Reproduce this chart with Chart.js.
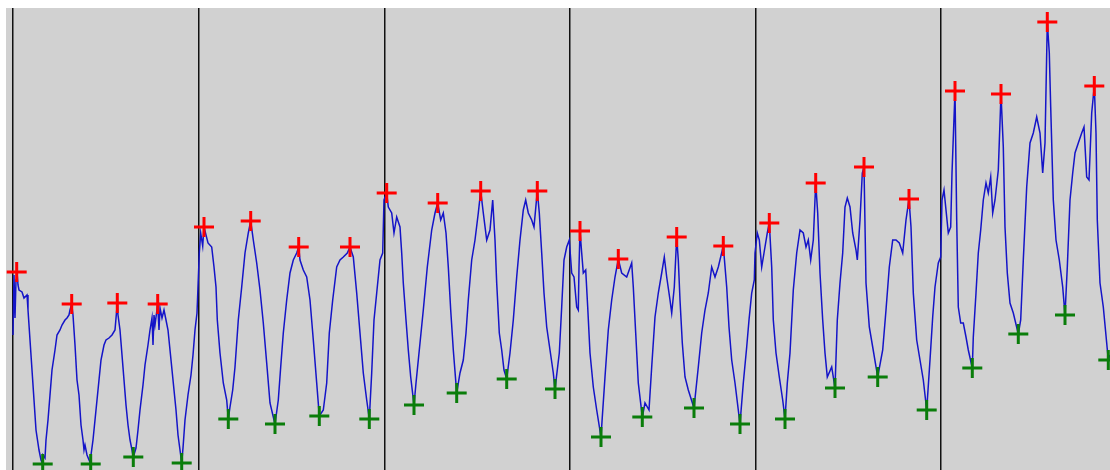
<!DOCTYPE html>
<html>
<head>
<meta charset="utf-8">
<script src="https://cdn.jsdelivr.net/npm/chart.js@4"></script>
<style>
  body { margin: 0; background: #fff; }
  #wrap { position: absolute; left: 6px; top: 8px; width: 1104px; height: 462px; }
</style>
</head>
<body>
<div id="wrap"><canvas id="peakChart"></canvas></div>
<script>
// segment boundaries (sample index)
const segmentStarts = [0, 186, 372, 557, 743, 928];

// traced signal: sample index and amplitude
const sampleIdx = [
  0, 1, 2, 3, 4, 5, 6, 9, 11, 14, 15, 17, 19, 21, 23, 26, 28, 29.7, 30, 32, 33, 35, 37, 39, 42, 44, 47, 49, 52, 54, 56, 57, 58.7, 60, 62, 64, 66, 68, 70, 71, 72, 74, 77.7, 78, 80, 82, 84, 86, 88, 91, 93, 96, 99, 102, 104.3, 105, 107, 109, 111, 113, 115, 117, 119, 120.3, 123, 125, 127, 130, 132, 135, 137, 139, 140, 141, 142, 144.7, 146, 147, 149, 151, 153, 155, 157, 159, 161, 163, 165, 167, 168.7, 170, 172, 175, 178, 180, 182, 184,
  186.3, 187.7, 189.7, 191, 195, 198.7, 201, 203, 204.3, 207, 210.3, 213.7, 215.3, 217, 219.7, 222, 225.3, 228.7, 232, 235.3, 237.7, 240.3, 243.7, 247, 250.3, 253.7, 257, 260.3, 262, 265.3, 267.7, 270.3, 273.7, 277, 280.3, 283.7, 285.7, 287, 290.3, 293.7, 297, 300.3, 303.7, 306.3, 310.3, 313.7, 316.3, 319.7, 323.7, 327, 330.3, 334.3, 337, 340.3, 343.7, 347, 350.3, 353.7, 356.3, 358.7, 361, 363.7, 367, 369.7,
  371, 373.7, 375.3, 378.7, 381, 383.7, 387, 388.7, 390.3, 393, 395.3, 397.7, 401, 403, 406.3, 410.3, 414.3, 418.7, 422, 424.7, 427.7, 430.3, 433, 435.3, 437.7, 440.3, 443.7, 447, 450.3, 453, 455.3, 458.7, 462, 465.3, 467.7, 470.3, 473.7, 477, 479.7, 482, 483.7, 486.3, 488.7, 491, 493.7, 497, 500.3, 503.7, 507, 510.3, 512.7, 515.3, 518.7, 521, 524.3, 526.3, 528.7, 531, 533.7, 537, 540.3, 542, 546.3, 548.7, 551, 553.7, 556.3,
  558.7, 561, 563.7, 565.3, 566, 567, 568.7, 570.3, 572.7, 574.7, 577, 580.3, 583.7, 588, 589.3, 592, 595.3, 598.7, 602, 605.3, 608.7, 613.7, 618.7, 620.3, 622.7, 625.3, 629.3, 632, 636, 638.7, 642, 645.3, 648.7, 651.3, 653.7, 657, 658.7, 661.3, 663.7, 665.3, 667, 669.3, 672, 675.3, 681, 685.3, 688.7, 692, 695.3, 698.7, 702, 705.3, 710.3, 713.7, 716, 718.7, 722, 727, 730.3, 733.7, 736, 738.7, 741.3,
  742, 744.3, 746.3, 748.7, 751, 754.3, 756.3, 758.7, 760.3, 763, 766.3, 769.7, 772, 774.3, 777, 780.3, 783.7, 787, 790.3, 793, 795.3, 797.7, 800.3, 802.7, 804.7, 807, 809.7, 812, 814.3, 818.7, 822, 824.3, 827, 829.7, 832, 834.3, 837, 839.7, 843, 844.3, 847, 849.3, 851, 853, 856.3, 859.7, 864.7, 869.7, 873, 876.3, 879.7, 883, 886.3, 889.7, 893, 896, 898, 900.3, 903.7, 907, 910.3, 913.7, 917, 919.7, 922, 925.3, 927.7,
  929, 931, 933, 935.3, 937.7, 939, 942, 943.7, 945.3, 947.7, 950.3, 953, 955.3, 959.3, 960.3, 963, 965.3, 967.7, 970.3, 973, 975.3, 977.7, 979.7, 982, 985.3, 988, 990.3, 992, 994.3, 997, 1000.3, 1005.3, 1007.7, 1010.3, 1013.7, 1017, 1020.3, 1023.7, 1027, 1029.7, 1032, 1034.3, 1036.3, 1037.7, 1040.3, 1043, 1046.3, 1049.7, 1052, 1054.3, 1057, 1059.7, 1062, 1065.3, 1068.7, 1071, 1073.7, 1076, 1078.7, 1081.3, 1083, 1084.3, 1087, 1090.3, 1095.3, 1097
];
const signal = [
  135, 195, 152, 190, 198, 185, 180, 178, 172, 175, 160, 130, 100, 70, 40, 20, 10, 6, 15, 12, 30, 50, 75, 100, 120, 135, 140, 145, 150, 152, 155, 160, 166, 155, 125, 90, 75, 45, 30, 20, 25, 15, 6, 15, 30, 50, 70, 90, 110, 125, 130, 132, 135, 140, 167, 155, 140, 115, 90, 65, 45, 30, 20, 13, 22, 40, 60, 85, 105, 125, 140, 152, 125, 155, 145, 166, 140, 162, 152, 160, 150, 140, 120, 100, 80, 60, 35, 20, 7, 22, 50, 75, 95, 115, 140, 157,
  217, 237, 224, 243, 227, 223, 203, 183, 150, 117, 87, 70, 51, 63, 80, 103, 150, 183, 217, 237, 249, 230, 207, 180, 147, 107, 67, 53, 46, 70, 103, 137, 170, 197, 210, 217, 223, 210, 200, 193, 170, 130, 87, 54, 60, 87, 137, 170, 203, 210, 213, 217, 223, 213, 177, 137, 97, 70, 51, 97, 150, 177, 210, 217,
  270, 277, 263, 257, 237, 253, 243, 217, 187, 150, 120, 93, 65, 87, 120, 160, 203, 240, 257, 267, 250, 257, 237, 203, 160, 120, 77, 97, 110, 137, 170, 210, 230, 257, 279, 257, 230, 240, 270, 230, 187, 137, 120, 100, 91, 117, 150, 193, 230, 260, 270, 257, 250, 243, 279, 257, 217, 177, 143, 120, 97, 81, 117, 163, 210, 223, 230,
  197, 193, 163, 160, 203, 239, 217, 197, 200, 163, 117, 83, 60, 33, 53, 93, 140, 170, 193, 211, 197, 193, 207, 183, 137, 87, 53, 67, 60, 103, 153, 177, 197, 213, 193, 170, 157, 183, 233, 210, 170, 127, 93, 80, 62, 103, 137, 160, 177, 203, 193, 203, 224, 183, 143, 110, 87, 46, 87, 123, 150, 177, 190,
  217, 237, 230, 203, 217, 237, 247, 203, 150, 117, 93, 70, 51, 87, 117, 180, 217, 240, 237, 223, 230, 210, 230, 287, 257, 197, 150, 117, 93, 103, 82, 150, 187, 217, 263, 272, 263, 237, 220, 210, 250, 297, 303, 187, 143, 123, 93, 120, 160, 203, 230, 230, 227, 217, 250, 271, 243, 177, 130, 110, 90, 60, 110, 153, 183, 207, 213,
  270, 280, 260, 237, 243, 297, 379, 250, 163, 147, 147, 133, 120, 102, 133, 177, 217, 240, 270, 287, 277, 293, 257, 270, 300, 376, 323, 243, 197, 167, 157, 136, 150, 210, 283, 327, 337, 353, 337, 297, 327, 448, 417, 363, 270, 230, 210, 183, 155, 203, 270, 297, 317, 327, 337, 343, 293, 290, 357, 384, 337, 250, 187, 163, 110, 115
];

// detected peaks (red) and troughs (green)
const peakIdx = [3.7, 58.7, 104.3, 144.7, 191, 237.7, 285.7, 337, 373.7, 424.7, 467.7, 524.3, 567, 605.3, 663.7, 710.3, 756.3, 802.7, 851, 896, 942, 988, 1034.3, 1081.3];
const peakVal = [198, 166, 167, 166, 243, 249, 223, 223, 277, 267, 279, 279, 239, 211, 233, 224, 247, 287, 303, 271, 379, 376, 448, 384];
const troughIdx = [29.7, 77.7, 120.3, 168.7, 215.3, 262, 306.3, 356.3, 401, 443.7, 493.7, 542, 588, 629.3, 681, 727, 772, 822, 864.7, 913.7, 959.3, 1005.3, 1052, 1095.3];
const troughVal = [6, 6, 13, 7, 51, 46, 54, 51, 65, 77, 91, 81, 33, 53, 62, 46, 51, 82, 93, 60, 102, 136, 155, 110];

const toPoints = (xs, ys) => xs.map((x, i) => ({ x: x, y: ys[i] }));

const plotBg = {
  id: 'plotBg',
  beforeDraw(chart) {
    const { ctx, chartArea } = chart;
    ctx.save();
    ctx.fillStyle = '#d1d1d1';
    ctx.fillRect(chartArea.left, chartArea.top, chartArea.right - chartArea.left, chartArea.bottom - chartArea.top);
    ctx.restore();
  }
};

const ctx = document.getElementById('peakChart').getContext('2d');
new Chart(ctx, {
  type: 'line',
  data: {
    datasets: [
      {
        label: 'Peaks',
        data: toPoints(peakIdx, peakVal),
        showLine: false,
        pointStyle: 'cross',
        pointRadius: 10,
        pointBorderWidth: 3,
        borderColor: '#ff0000',
        backgroundColor: '#ff0000',
        clip: false,
        order: 0
      },
      {
        label: 'Troughs',
        data: toPoints(troughIdx, troughVal),
        showLine: false,
        pointStyle: 'cross',
        pointRadius: 10,
        pointBorderWidth: 3,
        borderColor: '#0a7d0a',
        backgroundColor: '#0a7d0a',
        clip: false,
        order: 1
      },
      {
        label: 'Signal',
        data: toPoints(sampleIdx, signal),
        borderColor: '#1414c8',
        borderWidth: 1.5,
        pointRadius: 0,
        tension: 0,
        order: 2
      }
    ]
  },
  options: {
    animation: false,
    responsive: true,
    maintainAspectRatio: false,
    layout: { padding: 0, autoPadding: false },
    plugins: { legend: { display: false }, tooltip: { enabled: false } },
    scales: {
      x: {
        type: 'linear',
        min: -7,
        max: 1097,
        afterBuildTicks: (scale) => { scale.ticks = segmentStarts.map(v => ({ value: v })); },
        ticks: { display: false },
        grid: { color: '#111111', lineWidth: 1.5, drawTicks: false },
        border: { display: false }
      },
      y: {
        display: false,
        min: 0,
        max: 462
      }
    }
  },
  plugins: [plotBg]
});
</script>
</body>
</html>
